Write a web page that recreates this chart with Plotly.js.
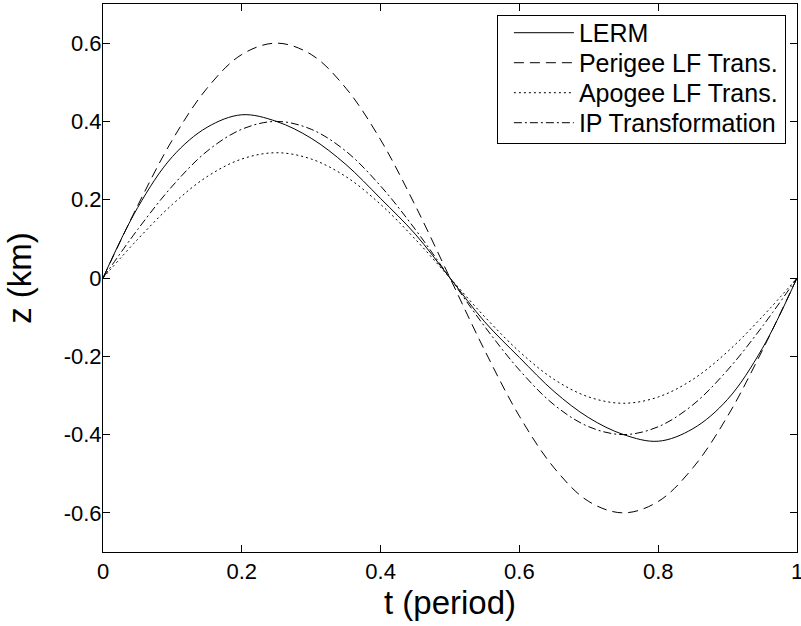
<!DOCTYPE html>
<html>
<head>
<meta charset="utf-8">
<script src="https://cdn.plot.ly/plotly-3.0.1.min.js"></script>
<style>html,body{margin:0;padding:0;background:#fff;}#chart{width:801px;height:626px;}</style>
</head>
<body>
<div id="chart"></div>
<script>
// time in periods
var t = [0, 0.05, 0.1, 0.15, 0.2, 0.25, 0.3, 0.35, 0.4, 0.45, 0.5, 0.55, 0.6, 0.65, 0.7, 0.75, 0.8, 0.85, 0.9, 0.95, 1];
// z (km)
var lerm    = [0, 0.18, 0.31, 0.385, 0.417, 0.40, 0.357, 0.29, 0.203, 0.112, 0, -0.112, -0.203, -0.29, -0.357, -0.40, -0.417, -0.385, -0.31, -0.18, 0];
var perigee = [0, 0.185, 0.353, 0.485, 0.571, 0.60, 0.571, 0.485, 0.353, 0.185, 0, -0.185, -0.353, -0.485, -0.571, -0.60, -0.571, -0.485, -0.353, -0.185, 0];
var apogee  = [0, 0.099, 0.188, 0.259, 0.304, 0.32, 0.304, 0.259, 0.188, 0.099, 0, -0.099, -0.188, -0.259, -0.304, -0.32, -0.304, -0.259, -0.188, -0.099, 0];
var ip      = [0, 0.124, 0.235, 0.324, 0.380, 0.40, 0.380, 0.324, 0.235, 0.124, 0, -0.124, -0.235, -0.324, -0.380, -0.40, -0.380, -0.324, -0.235, -0.124, 0];
var seriesNames = ["LERM", "Perigee LF Trans.", "Apogee LF Trans.", "IP Transformation"];
var xTickVals = [0, 0.2, 0.4, 0.6, 0.8, 1];
var xTickText = ["0", "0.2", "0.4", "0.6", "0.8", "1"];
var yTickVals = [-0.6, -0.4, -0.2, 0, 0.2, 0.4, 0.6];
var yTickText = ["-0.6", "-0.4", "-0.2", "0", "0.2", "0.4", "0.6"];

var dashes = ["solid", "10px,6px", "2px,3px", "8px,3px,2px,3px"];
var ys = [lerm, perigee, apogee, ip];
var traces = ys.map(function (y, i) {
  return {
    x: t, y: y, name: seriesNames[i], type: "scatter", mode: "lines",
    line: {color: "#000", width: 1, dash: dashes[i], shape: "spline", smoothing: 1}
  };
});

var fam = "Liberation Sans, Arial, sans-serif";
var layout = {
  width: 801, height: 626,
  margin: {l: 103, r: 4, t: 4, b: 74},
  paper_bgcolor: "#fff", plot_bgcolor: "#fff",
  font: {family: fam, color: "#000", size: 22},
  showlegend: true,
  xaxis: {
    range: [0, 1], tickvals: xTickVals, ticktext: xTickText,
    ticks: "inside", ticklen: 7, tickwidth: 1, tickcolor: "#000",
    showline: true, linecolor: "#000", linewidth: 1, mirror: "ticks",
    showgrid: false, zeroline: false, ticklabeloverflow: "allow",
    tickfont: {family: fam, size: 22, color: "#000"},
    title: {text: "t (period)", font: {family: fam, size: 33, color: "#000"}, standoff: 7}
  },
  yaxis: {
    range: [-0.7, 0.7], tickvals: yTickVals, ticktext: yTickText,
    ticks: "inside", ticklen: 7, tickwidth: 1, tickcolor: "#000",
    showline: true, linecolor: "#000", linewidth: 1, mirror: "ticks",
    showgrid: false, zeroline: false, ticklabeloverflow: "allow",
    ticklabelstandoff: -4,
    tickfont: {family: fam, size: 22, color: "#000"},
    title: {text: "z (km)", font: {family: fam, size: 33, color: "#000"}, standoff: 22}
  },
  legend: {
    x: 0.984, y: 0.98, xanchor: "right", yanchor: "top",
    bgcolor: "#fff", bordercolor: "#000", borderwidth: 1,
    font: {family: fam, size: 25, color: "#000"},
    itemwidth: 60, tracegroupgap: 0
  }
};

Plotly.newPlot("chart", traces, layout, {staticPlot: true, displayModeBar: false}).then(function (gd) {
  // tighten legend rows to the reference spacing and inset the samples
  var leg = gd.querySelector("g.legend");
  if (!leg) return;
  var bg = leg.querySelector("rect.bg");
  var items = leg.querySelectorAll("g.traces");
  var sb = leg.querySelector("g.scrollbox");
  if (sb) sb.removeAttribute("clip-path");
  var spacing = 30, shift = 11, widen = 13, up = 6;
  function parse(tr) {
    var m = /translate\(\s*([-\d.e]+)[ ,]+([-\d.e]+)/.exec(tr || "");
    return m ? {x: parseFloat(m[1]), y: parseFloat(m[2])} : {x: 0, y: 0};
  }
  var first = parse(items[0].getAttribute("transform"));
  var y0 = first.y - up;
  items.forEach(function (el, i) {
    el.setAttribute("transform", "translate(" + (first.x + shift) + "," + (y0 + i * spacing) + ")");
  });
  var w = parseFloat(bg.getAttribute("width")) + widen;
  var h = 2 * y0 + (items.length - 1) * spacing + 3;
  bg.setAttribute("width", w);
  bg.setAttribute("height", h);
  var lp = parse(leg.getAttribute("transform"));
  leg.setAttribute("transform", "translate(" + (lp.x - widen) + "," + lp.y + ")");
});
</script>
</body>
</html>
